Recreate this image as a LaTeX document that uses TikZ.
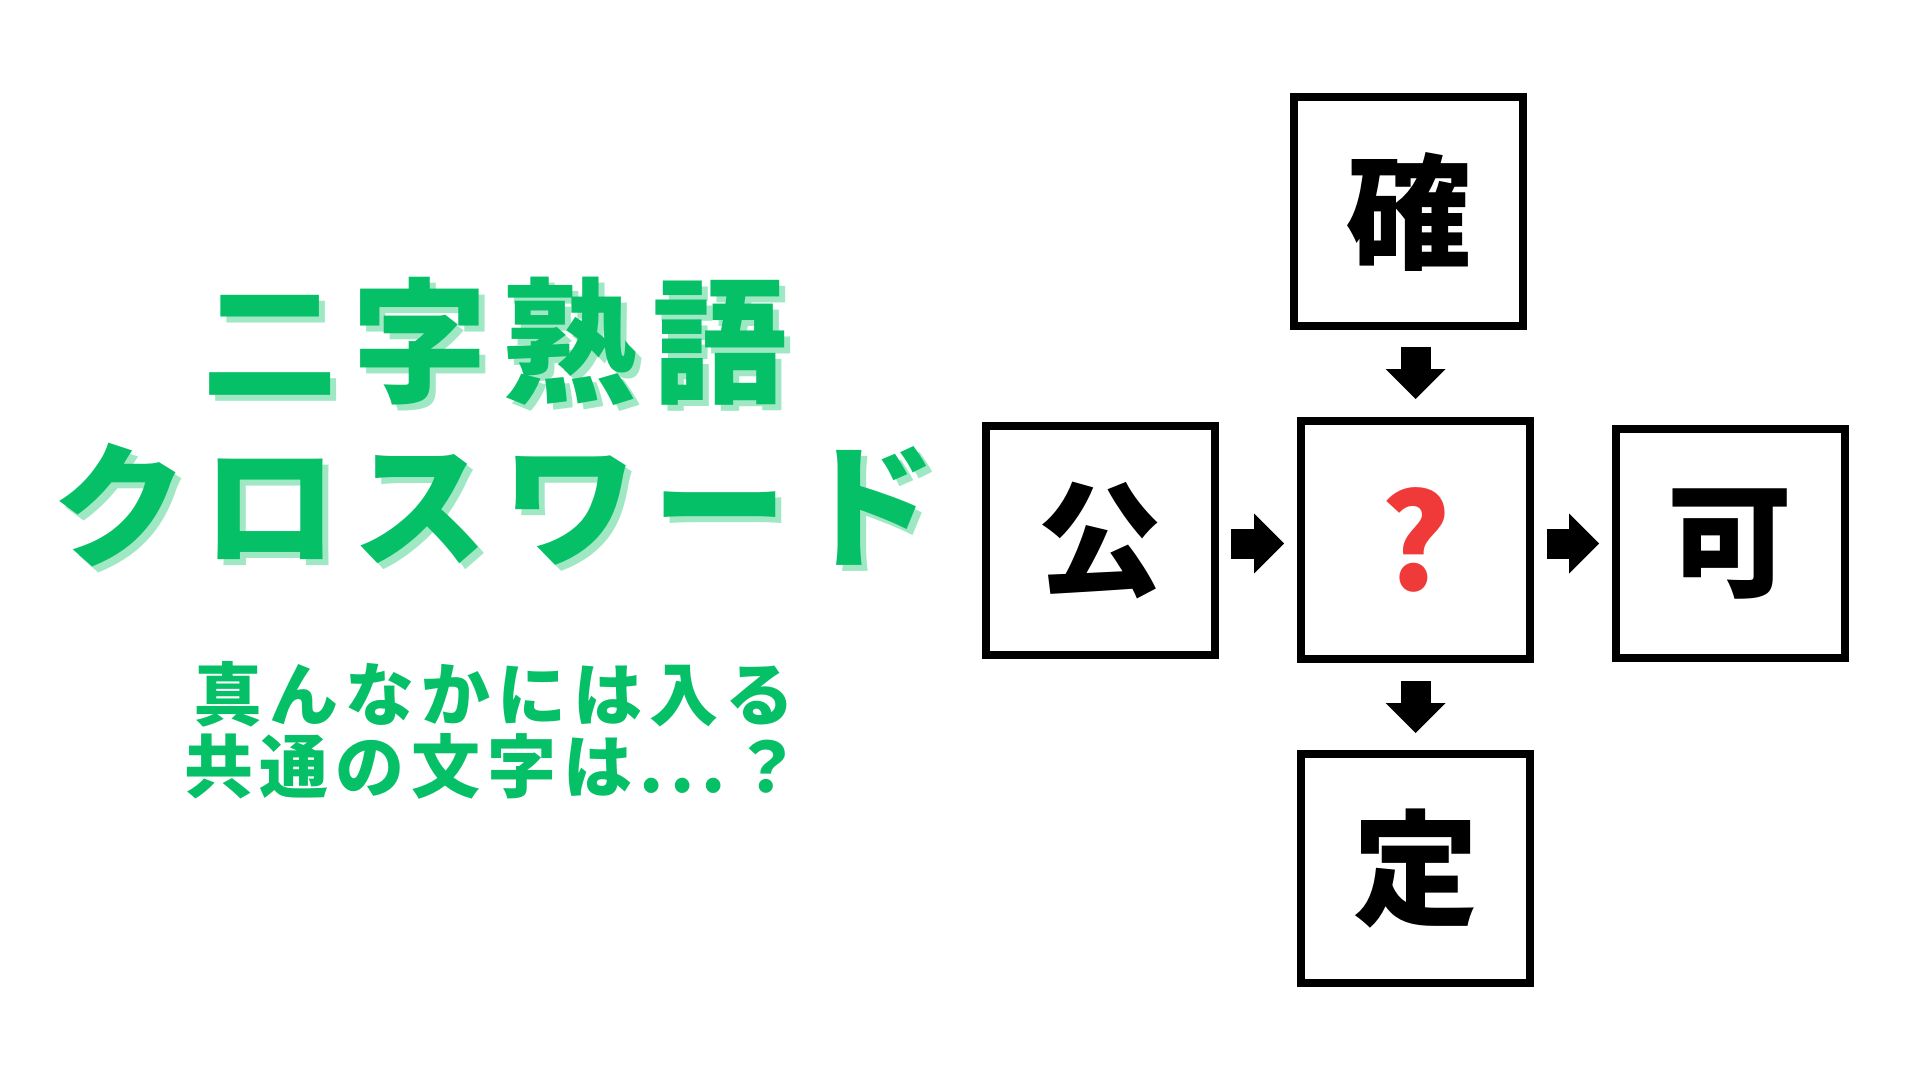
\documentclass[tikz,border=0pt]{standalone}
\usepackage{fontspec}
\usetikzlibrary{arrows.meta, positioning, calc}
\definecolor{kanagreen}{RGB}{6, 192, 104}
\definecolor{kanashade}{RGB}{160, 232, 196}
\definecolor{quizred}{RGB}{240, 58, 58}
\newfontfamily\jpfont{Noto Sans CJK JP}
\newfontfamily\titlefont[LetterSpace=11]{Noto Sans CJK JP}
\newfontfamily\subfont[LetterSpace=10]{Noto Sans CJK JP}

\begin{document}
\begin{tikzpicture}[x=1pt, y=-1pt,
  titletext/.style={font=\titlefont\bfseries\fontsize{135}{135}\selectfont, anchor=base, inner sep=0pt},
  subtext/.style={font=\subfont\bfseries\fontsize{69}{69}\selectfont, anchor=base, inner sep=0pt, text=kanagreen},
  charbox/.style={draw=black, line width=8pt, minimum width=229pt, minimum height=229pt, inner sep=0pt, font=\jpfont\bfseries\fontsize{125}{125}\selectfont},
  blockarrow/.style={line width=30pt, -{Triangle[length=30pt, width=60pt, line width=0pt]}}]
  \useasboundingbox (0,0) rectangle (1920,1080);

  % Title, with a soft offset shadow
  \node[titletext, text=kanashade] (title1shade) at (501, 398) {二字熟語};
  \node[titletext, text=kanagreen] (title1) at (495, 392) {二字熟語};
  \node[titletext, text=kanashade] (title2shade) at (501, 562) {クロスワード};
  \node[titletext, text=kanagreen] (title2) at (495, 556) {クロスワード};

  % Question
  \node[subtext] (sub1) at (494, 720) {真んなかには入る};
  \node[subtext] (sub2) at (493, 792) {共通の文字は...？};

  % The cross
  \node[charbox] (topbox) at (1408.5, 211.5) {確};
  \node[charbox] (leftbox) at (1100, 540.5) {公};
  \node[charbox, minimum height=238pt, text=quizred, font=\jpfont\bfseries\fontsize{132}{132}\selectfont] (midbox) at (1415.5, 540) {?};
  \node[charbox] (rightbox) at (1730, 543.5) {可};
  \node[charbox] (botbox) at (1415.5, 868.5) {定};

  % Arrows into and out of the middle
  \draw[blockarrow, shorten <=17pt, shorten >=18pt] (topbox.south -| midbox.north) -- (midbox.north);
  \draw[blockarrow, shorten <=12.5pt, shorten >=13pt] ([yshift=-3pt]leftbox.east) -- ([yshift=-3pt]leftbox.east -| midbox.west);
  \draw[blockarrow, shorten <=13pt, shorten >=12.5pt] (rightbox.west -| midbox.east) -- (rightbox.west);
  \draw[blockarrow, shorten <=18pt, shorten >=17pt] (midbox.south) -- (midbox.south |- botbox.north);
\end{tikzpicture}
\end{document}
